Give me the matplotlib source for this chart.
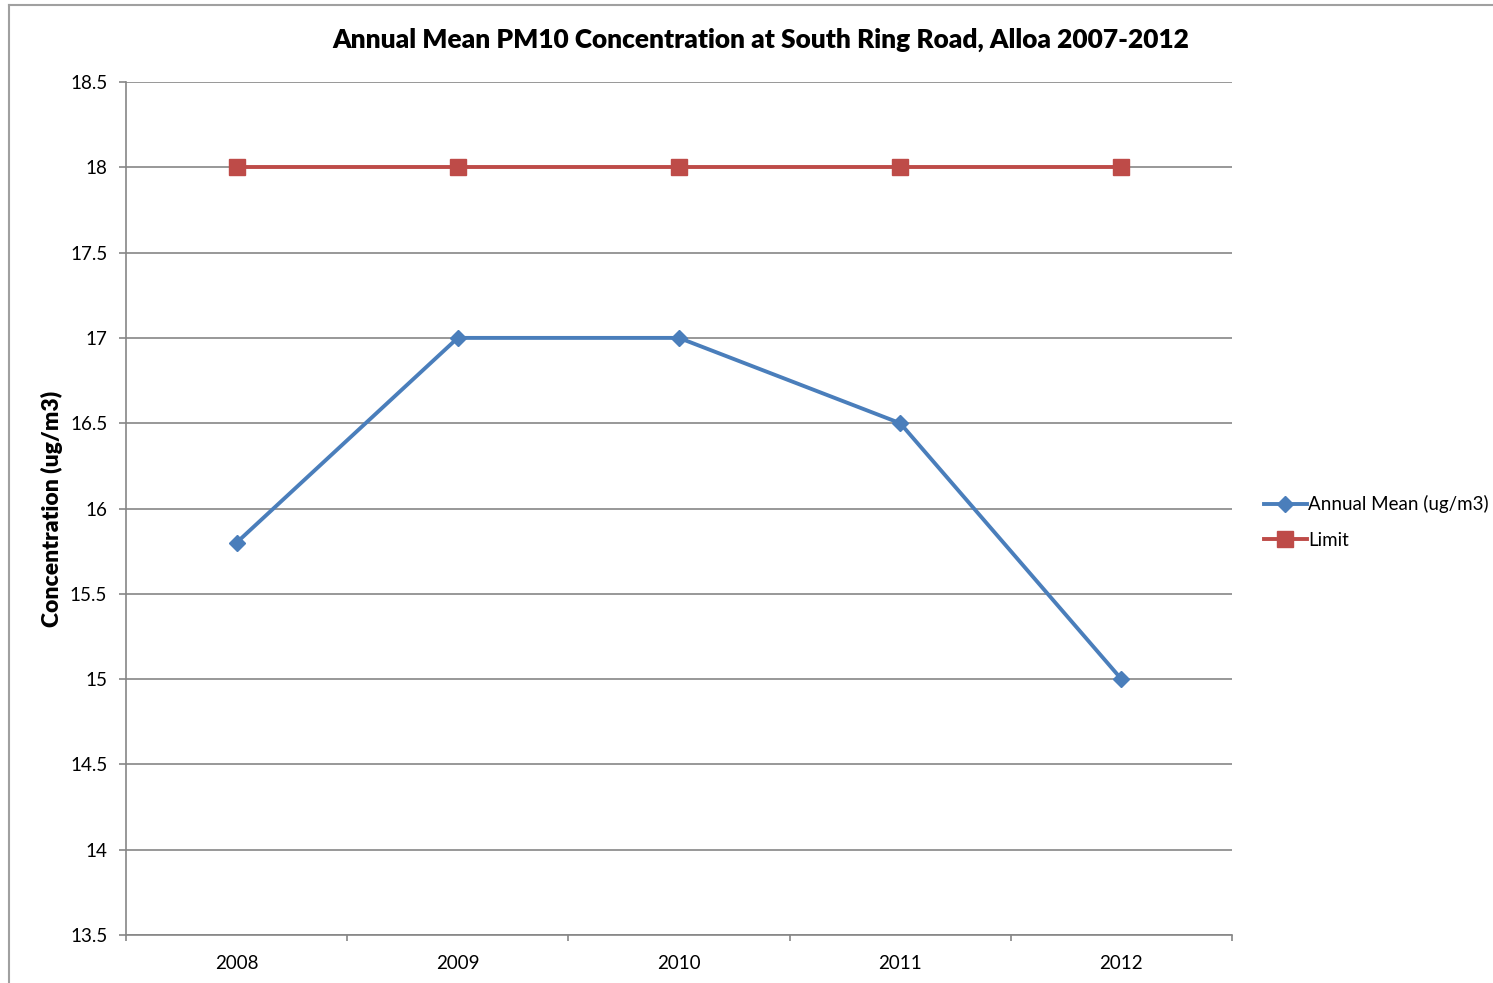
import matplotlib.pyplot as plt
from matplotlib.lines import Line2D

years = ["2008", "2009", "2010", "2011", "2012"]
annual_mean = [15.8, 17.0, 17.0, 16.5, 15.0]
limit = [18, 18, 18, 18, 18]
y_ticks = [13.5, 14, 14.5, 15, 15.5, 16, 16.5, 17, 17.5, 18, 18.5]

plt.rcParams['font.family'] = ['Lato', 'DejaVu Sans']

W, H = 1493, 983
fig = plt.figure(figsize=(W / 100, H / 100), dpi=100)
ax = fig.add_axes([126 / W, 1 - 935 / H, (1232 - 126) / W, (935 - 82) / H])

blue = "#4A7EBB"
red = "#BE4B48"
grey = "#868686"

x = range(len(years))
ax.plot(x, annual_mean, color=blue, lw=2.8, marker="D", markersize=8.5,
        label="Annual Mean (ug/m3)", zorder=3)
ax.plot(x, limit, color=red, lw=2.8, marker="s", markersize=11.5,
        label="Limit", zorder=3)

ax.set_xlim(-0.5, len(years) - 0.5)
ax.set_ylim(13.5, 18.5)
ax.set_yticks(y_ticks)
ax.set_yticklabels([f"{v:g}" for v in y_ticks])
ax.set_xticks(list(x))
ax.set_xticklabels(years)
ax.set_xticks([i - 0.5 for i in range(len(years) + 1)], minor=True)
ax.tick_params(axis="x", which="major", length=0, pad=14.5, labelsize=13.5)
ax.tick_params(axis="x", which="minor", length=4.5, color=grey, width=1.2)
ax.tick_params(axis="y", length=5, color=grey, width=1.2, pad=8.5, labelsize=13.5)

ax.grid(axis="y", color=grey, lw=1.2)
ax.set_axisbelow(True)
for s in ["top", "right"]:
    ax.spines[s].set_visible(False)
for s in ["left", "bottom"]:
    ax.spines[s].set_color(grey)
    ax.spines[s].set_linewidth(1.2)

ax.set_ylabel("Concentration (ug/m3)", fontsize=16.5, fontweight="heavy", labelpad=5)
fig.text(761 / W, 1 - 40 / H, "Annual Mean PM10 Concentration at South Ring Road, Alloa 2007-2012",
         ha="center", va="center", fontsize=18.9, fontweight="heavy")

ax.legend(loc="center left", bbox_to_anchor=(1256 / W, 1 - 522 / H),
          bbox_transform=fig.transFigure, frameon=False, fontsize=13.5,
          handlelength=2.3, handletextpad=0.1, labelspacing=1.0, borderaxespad=0)

# chart area border (left and top edges visible)
fig.add_artist(Line2D([9 / W, 9 / W], [0, 1 - 5 / H], transform=fig.transFigure,
                      color="#A0A0A0", lw=1.5))
fig.add_artist(Line2D([9 / W, 1], [1 - 5 / H, 1 - 5 / H], transform=fig.transFigure,
                      color="#A0A0A0", lw=1.5))

fig.savefig("out.png", dpi=100)
